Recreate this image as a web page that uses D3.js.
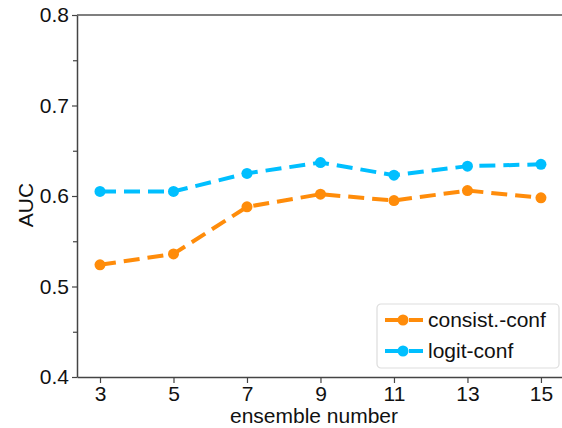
<!DOCTYPE html>
<html>
<head>
<meta charset="utf-8">
<script src="https://cdn.jsdelivr.net/npm/d3@7"></script>
<style>
  body { margin: 0; background: #fff; }
  svg { font-family: "Liberation Sans", Arial, sans-serif; }
</style>
</head>
<body>
<svg id="content"></svg>
<script>
// data
const ensembles = [3, 5, 7, 9, 11, 13, 15];
const consistConf = [0.524, 0.536, 0.588, 0.602, 0.595, 0.606, 0.598];
const logitConf = [0.605, 0.605, 0.625, 0.637, 0.623, 0.633, 0.635];
const yTicks = [0.4, 0.5, 0.6, 0.7, 0.8];
const yMinor = [0.45, 0.55, 0.65, 0.75];

const W = 562, H = 428;
const fs = 21;
const svg = d3.select("#content").attr("width", W).attr("height", H);

const x = d3.scaleLinear().domain([2.374, 15.6]).range([77, 563]);
const y = d3.scaleLinear().domain([0.4, 0.8]).range([377, 15]);

// axes
svg.append("g")
    .attr("transform", `translate(0,${y(0.4)})`)
    .call(d3.axisBottom(x).tickValues(ensembles).tickSize(6).tickPadding(3).tickSizeOuter(0));

svg.append("g")
    .attr("transform", `translate(${x.range()[0]},0)`)
    .call(d3.axisLeft(y).tickValues(yTicks).tickFormat(d3.format(".1f")).tickSize(5).tickPadding(3).tickSizeOuter(0));

svg.append("g")
    .attr("transform", `translate(${x.range()[0]},0)`)
    .call(d3.axisLeft(y).tickValues(yMinor).tickFormat("").tickSize(4).tickSizeOuter(0))
    .select(".domain").remove();

// top spine
svg.append("line")
    .attr("x1", x.range()[0]).attr("x2", W)
    .attr("y1", y(0.8)).attr("y2", y(0.8))
    .attr("stroke", "#555").attr("stroke-width", 1.5);

svg.selectAll(".domain").attr("stroke", "#444").attr("stroke-width", 1.5);
svg.selectAll(".tick line").attr("stroke", "#444").attr("stroke-width", 1.2);
svg.selectAll(".tick text").attr("font-size", fs).attr("fill", "#111")
    .attr("font-family", "Liberation Sans, Arial, sans-serif");

// axis titles
svg.append("text")
    .attr("x", 314).attr("y", 423)
    .attr("text-anchor", "middle").attr("font-size", fs).attr("fill", "#111")
    .text("ensemble number");

svg.append("text")
    .attr("transform", `translate(33,205) rotate(-90)`)
    .attr("text-anchor", "middle").attr("font-size", fs).attr("fill", "#111")
    .text("AUC");

const series = [
    { name: "consist.-conf", values: consistConf, color: "#ff8c0a" },
    { name: "logit-conf", values: logitConf, color: "#00bfff" }
];

const line = d3.line().x(d => x(d[0])).y(d => y(d[1]));

series.forEach(s => {
    const pts = ensembles.map((e, i) => [e, s.values[i]]);
    svg.append("path")
        .datum(pts)
        .attr("d", line)
        .attr("fill", "none")
        .attr("stroke", s.color)
        .attr("stroke-width", 4)
        .attr("stroke-dasharray", "16,8");
    svg.selectAll(null)
        .data(pts)
        .enter()
        .append("circle")
          .attr("cx", d => x(d[0]))
          .attr("cy", d => y(d[1]))
          .attr("r", 5.5)
          .attr("fill", s.color);
});

// legend
const lg = svg.append("g").attr("transform", "translate(377,304)");
lg.append("rect")
    .attr("width", 182).attr("height", 64)
    .attr("rx", 4)
    .attr("fill", "#fff").attr("stroke", "#ddd").attr("stroke-width", 1.2);

series.forEach((s, i) => {
    const g = lg.append("g").attr("transform", `translate(0,${16 + i * 31})`);
    g.append("line")
        .attr("x1", 8).attr("x2", 46)
        .attr("stroke", s.color).attr("stroke-width", 4)
        .attr("stroke-dasharray", "16,8");
    g.append("circle").attr("cx", 26).attr("r", 5.5).attr("fill", s.color);
    g.append("text")
        .attr("x", 51).attr("y", 7)
        .attr("font-size", fs).attr("fill", "#111")
        .text(s.name);
});
</script>
</body>
</html>
